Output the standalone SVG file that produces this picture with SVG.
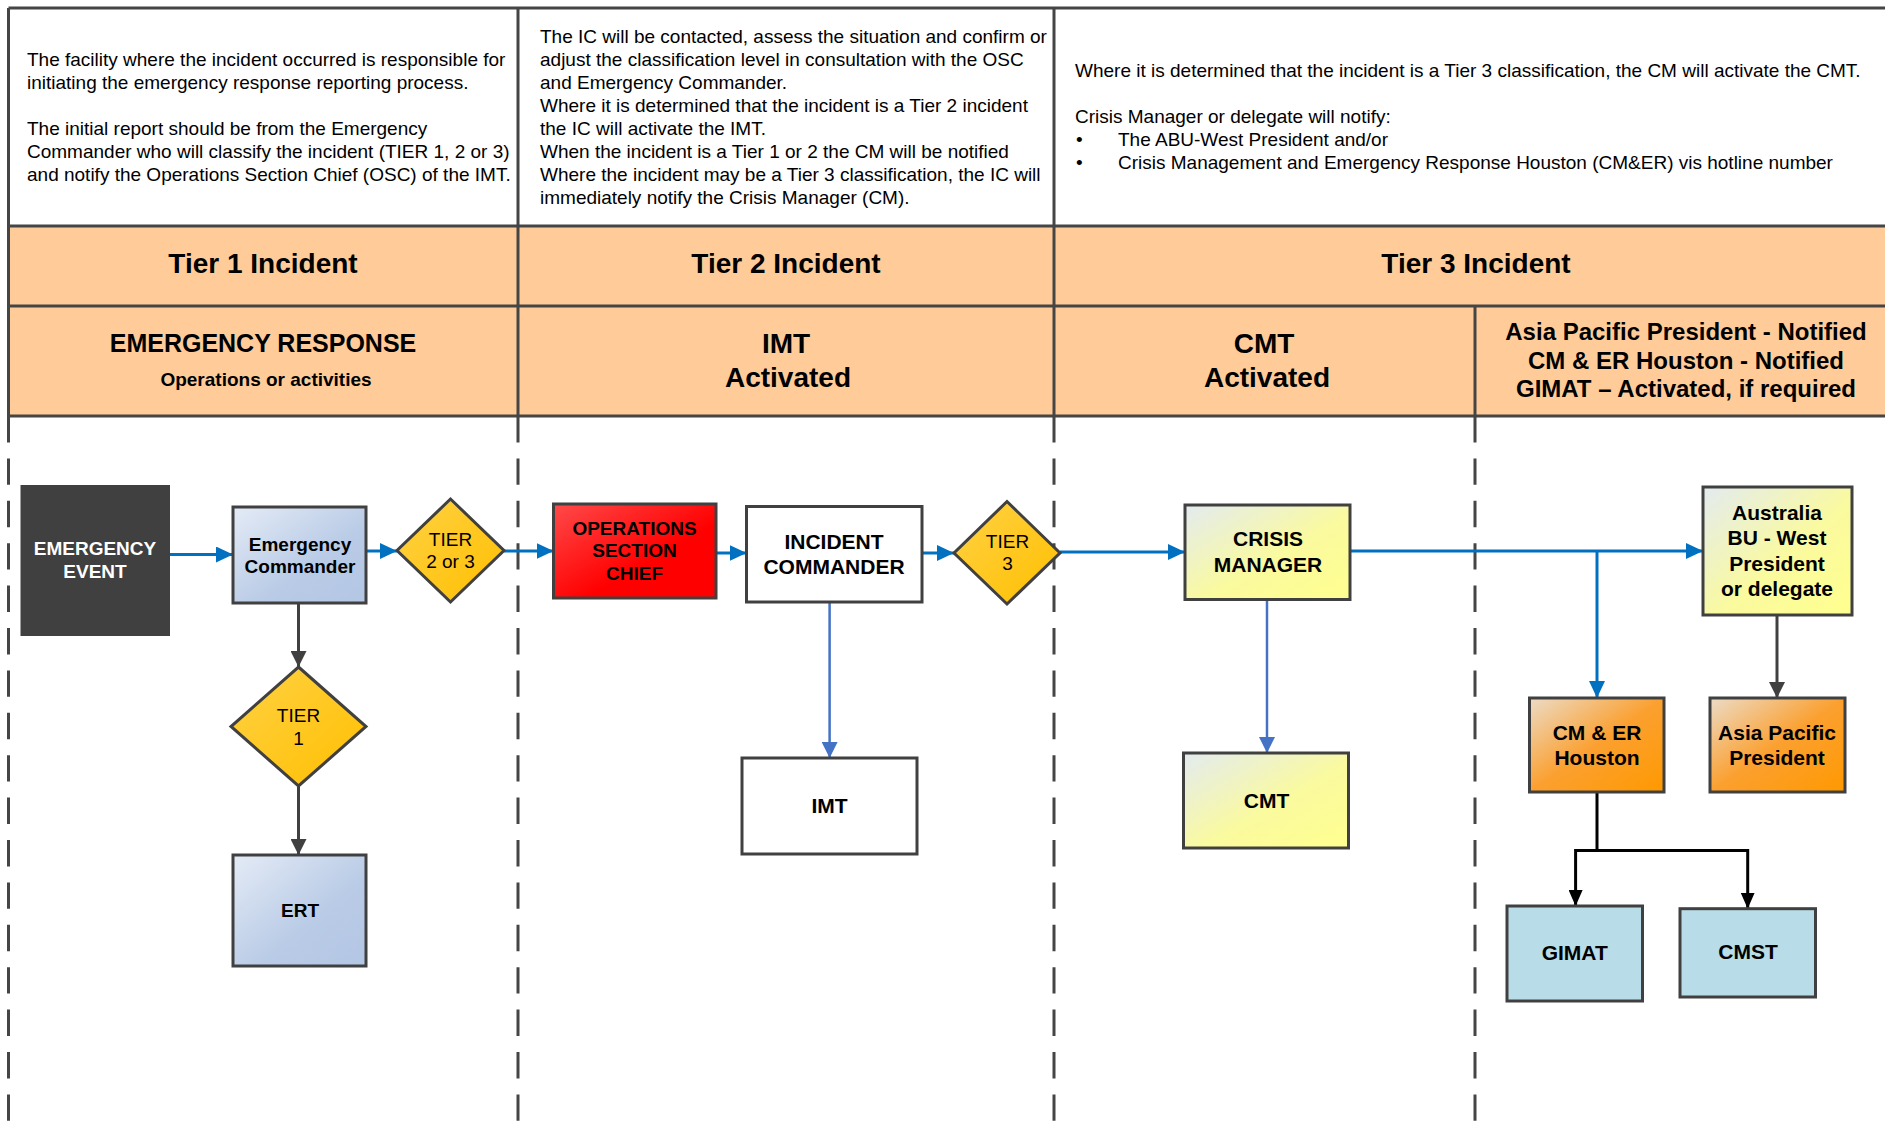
<svg xmlns="http://www.w3.org/2000/svg" width="1885" height="1123" viewBox="0 0 1885 1123">
  <style>
    text { font-family: "Liberation Sans", Arial, sans-serif; fill: #000; }
    .note { font-size: 19px; }
    .tier { font-size: 28px; font-weight: bold; text-anchor: middle; }
    .sub { font-size: 24px; font-weight: bold; text-anchor: middle; }
    .lbl { font-size: 19px; font-weight: bold; text-anchor: middle; }
    .lbl21 { font-size: 21px; font-weight: bold; text-anchor: middle; }
    .dlbl { font-size: 19px; text-anchor: middle; }
    .grid { stroke: #454545; stroke-width: 3; fill: none; }
    .lane { stroke: #454545; stroke-width: 3; fill: none; stroke-dasharray: 26.4 16; }
    .box { stroke: #404040; stroke-width: 3; }
    .blue { stroke: #0070c0; stroke-width: 3; fill: none; }
    .blue2 { stroke: #4472c4; stroke-width: 2.5; fill: none; }
    .dark { stroke: #404040; stroke-width: 3; fill: none; }
    .black { stroke: #000; stroke-width: 3; fill: none; }
  </style>
  <defs>
    <linearGradient id="gBlue" x1="0" y1="0" x2="1" y2="1">
      <stop offset="0" stop-color="#e4ebf6"/>
      <stop offset="0.6" stop-color="#b9cbe6"/>
      <stop offset="1" stop-color="#b3c6e4"/>
    </linearGradient>
    <linearGradient id="gYellow" x1="0" y1="0" x2="1" y2="1">
      <stop offset="0" stop-color="#e3ebf0"/>
      <stop offset="0.55" stop-color="#fafa9f"/>
      <stop offset="1" stop-color="#ffff8f"/>
    </linearGradient>
    <linearGradient id="gOrange" x1="0" y1="0" x2="1" y2="1">
      <stop offset="0" stop-color="#ecdcc8"/>
      <stop offset="0.5" stop-color="#fba030"/>
      <stop offset="1" stop-color="#ff9900"/>
    </linearGradient>
    <linearGradient id="gDiamond" x1="0" y1="0" x2="1" y2="1">
      <stop offset="0" stop-color="#ffd245"/>
      <stop offset="1" stop-color="#ffbf00"/>
    </linearGradient>
    <linearGradient id="gRed" x1="0" y1="0" x2="1" y2="1">
      <stop offset="0" stop-color="#ff4a4a"/>
      <stop offset="0.6" stop-color="#ff0000"/>
      <stop offset="1" stop-color="#ff0000"/>
    </linearGradient>
    <marker id="aBlue" markerUnits="userSpaceOnUse" markerWidth="18" markerHeight="16" refX="17" refY="8" orient="auto">
      <path d="M0,0 L17,8 L0,16 z" fill="#0070c0"/>
    </marker>
    <marker id="aBlue2" markerUnits="userSpaceOnUse" markerWidth="16" markerHeight="16" refX="16" refY="8" orient="auto">
      <path d="M0,0 L16,8 L0,16 z" fill="#4472c4"/>
    </marker>
    <marker id="aDark" markerUnits="userSpaceOnUse" markerWidth="16" markerHeight="16" refX="16" refY="8" orient="auto">
      <path d="M0,0 L16,8 L0,16 z" fill="#404040"/>
    </marker>
    <marker id="aBlack" markerUnits="userSpaceOnUse" markerWidth="16" markerHeight="14" refX="16" refY="7" orient="auto">
      <path d="M0,0 L16,7 L0,14 z" fill="#000"/>
    </marker>
  </defs>

  <!-- table background -->
  <rect x="0" y="0" width="1885" height="1123" fill="#fff"/>
  <rect x="8.5" y="226" width="1890" height="190" fill="#ffcc99"/>

  <!-- table grid -->
  <g id="table-grid">
    <path class="grid" d="M8.5,8 H1890 M8.5,226 H1890 M8.5,306 H1890 M8.5,416 H1890"/>
    <path class="grid" d="M8.5,8 V416 M518,8 V416 M1054,8 V416 M1475,306 V416"/>
  </g>

  <!-- swimlane separators -->
  <g id="lanes">
    <path class="lane" d="M8.5,416 V1123 M518,416 V1123 M1054,416 V1123 M1475,416 V1123"/>
  </g>

  <!-- description notes -->
  <g id="note-tier1" class="note">
    <text x="27" y="66">The facility where the incident occurred is responsible for</text>
    <text x="27" y="89">initiating the emergency response reporting process.</text>
    <text x="27" y="135">The initial report should be from the Emergency</text>
    <text x="27" y="158">Commander who will classify the incident (TIER 1, 2 or 3)</text>
    <text x="27" y="181">and notify the Operations Section Chief (OSC) of the IMT.</text>
  </g>
  <g id="note-tier2" class="note">
    <text x="540" y="43">The IC will be contacted, assess the situation and confirm or</text>
    <text x="540" y="66">adjust the classification level in consultation with the OSC</text>
    <text x="540" y="89">and Emergency Commander.</text>
    <text x="540" y="112">Where it is determined that the incident is a Tier 2 incident</text>
    <text x="540" y="135">the IC will activate the IMT.</text>
    <text x="540" y="158">When the incident is a Tier 1 or 2 the CM will be notified</text>
    <text x="540" y="181">Where the incident may be a Tier 3 classification, the IC will</text>
    <text x="540" y="204">immediately notify the Crisis Manager (CM).</text>
  </g>
  <g id="note-tier3" class="note">
    <text x="1075" y="77">Where it is determined that the incident is a Tier 3 classification, the CM will activate the CMT.</text>
    <text x="1075" y="123">Crisis Manager or delegate will notify:</text>
    <text x="1076" y="146">•</text>
    <text x="1118" y="146">The ABU-West President and/or</text>
    <text x="1076" y="169">•</text>
    <text x="1118" y="169">Crisis Management and Emergency Response Houston (CM&amp;ER) vis hotline number</text>
  </g>

  <!-- tier headings -->
  <g id="tier-headings">
    <text class="tier" x="263" y="273">Tier 1 Incident</text>
    <text class="tier" x="786" y="273">Tier 2 Incident</text>
    <text class="tier" x="1476" y="273">Tier 3 Incident</text>
  </g>

  <!-- activation headings -->
  <g id="activation-headings">
    <text class="tier" x="263" y="352" style="font-size:25px">EMERGENCY RESPONSE</text>
    <text class="lbl" x="266" y="386">Operations or activities</text>
    <text class="tier" x="786" y="353">IMT</text>
    <text class="tier" x="788" y="387">Activated</text>
    <text class="tier" x="1264" y="353">CMT</text>
    <text class="tier" x="1267" y="387">Activated</text>
    <text class="sub" x="1686" y="340">Asia Pacific President - Notified</text>
    <text class="sub" x="1686" y="369">CM &amp; ER Houston - Notified</text>
    <text class="sub" x="1686" y="397">GIMAT – Activated, if required</text>
  </g>

  <!-- connectors -->
  <g id="connectors">
    <path class="blue" d="M170,554.5 H233" marker-end="url(#aBlue)"/>
    <path class="blue" d="M366,551 H397" marker-end="url(#aBlue)"/>
    <path class="blue" d="M504,551 H553.5" marker-end="url(#aBlue)"/>
    <path class="blue" d="M716,553 H746.5" marker-end="url(#aBlue)"/>
    <path class="blue" d="M922,553 H954" marker-end="url(#aBlue)"/>
    <path class="blue" d="M1060,552 H1185" marker-end="url(#aBlue)"/>
    <path class="blue" d="M1350,551 H1703" marker-end="url(#aBlue)"/>
    <path class="blue" d="M1597,551 V698" marker-end="url(#aBlue)"/>
    <path class="blue2" d="M829.6,602 V758" marker-end="url(#aBlue2)"/>
    <path class="blue2" d="M1267,599.5 V753" marker-end="url(#aBlue2)"/>
    <path class="dark" d="M298.5,603 V667" marker-end="url(#aDark)"/>
    <path class="dark" d="M298.5,786 V855" marker-end="url(#aDark)"/>
    <path class="dark" d="M1777,615 V698" marker-end="url(#aDark)"/>
    <path class="black" d="M1597,792 V850.5 H1575.6 V906" marker-end="url(#aBlack)"/>
    <path class="black" d="M1597,850.5 H1747.7 V908.7" marker-end="url(#aBlack)"/>
  </g>

  <!-- nodes -->
  <g id="emergency-event">
    <rect x="20.5" y="485" width="149.5" height="151" fill="#404040"/>
    <text class="lbl" x="95" y="555" style="fill:#fff">EMERGENCY</text>
    <text class="lbl" x="95" y="578" style="fill:#fff">EVENT</text>
  </g>
  <g id="emergency-commander">
    <rect class="box" x="233" y="507" width="133" height="96" fill="url(#gBlue)"/>
    <text class="lbl" x="300" y="550.5">Emergency</text>
    <text class="lbl" x="300" y="573">Commander</text>
  </g>
  <g id="tier-2-or-3">
    <polygon class="box" points="450.5,499 504,550.5 450.5,602 397,550.5" fill="url(#gDiamond)"/>
    <text class="dlbl" x="450.5" y="545.5">TIER</text>
    <text class="dlbl" x="450.5" y="568">2 or 3</text>
  </g>
  <g id="tier-1">
    <polygon class="box" points="298.5,667 366,726.5 298.5,786 231,726.5" fill="url(#gDiamond)"/>
    <text class="dlbl" x="298.5" y="722">TIER</text>
    <text class="dlbl" x="298.5" y="744.5">1</text>
  </g>
  <g id="ert">
    <rect class="box" x="233" y="855" width="133" height="111" fill="url(#gBlue)"/>
    <text class="lbl" x="300" y="917">ERT</text>
  </g>
  <g id="operations-section-chief">
    <rect class="box" x="553.5" y="504" width="162.5" height="94" fill="url(#gRed)"/>
    <text class="lbl" x="634.5" y="534.5">OPERATIONS</text>
    <text class="lbl" x="634.5" y="557">SECTION</text>
    <text class="lbl" x="634.5" y="580">CHIEF</text>
  </g>
  <g id="incident-commander">
    <rect class="box" x="746.5" y="506.5" width="175.5" height="95.5" fill="#fff"/>
    <text class="lbl21" x="834" y="548.5">INCIDENT</text>
    <text class="lbl21" x="834" y="573.5">COMMANDER</text>
  </g>
  <g id="tier-3">
    <polygon class="box" points="1007,501.5 1060,553 1007,604 954,553" fill="url(#gDiamond)"/>
    <text class="dlbl" x="1007.5" y="547.5">TIER</text>
    <text class="dlbl" x="1007.5" y="570">3</text>
  </g>
  <g id="imt">
    <rect class="box" x="742" y="758" width="175" height="96" fill="#fff"/>
    <text class="lbl21" x="829.6" y="812.5">IMT</text>
  </g>
  <g id="crisis-manager">
    <rect class="box" x="1185" y="505" width="165" height="94.5" fill="url(#gYellow)"/>
    <text class="lbl21" x="1268" y="545.5">CRISIS</text>
    <text class="lbl21" x="1268" y="572">MANAGER</text>
  </g>
  <g id="cmt">
    <rect class="box" x="1183.5" y="753" width="165" height="95" fill="url(#gYellow)"/>
    <text class="lbl21" x="1266.5" y="807.5">CMT</text>
  </g>
  <g id="australia-bu-west">
    <rect class="box" x="1703" y="487" width="149" height="128" fill="url(#gYellow)"/>
    <text class="lbl21" x="1777" y="519.5">Australia</text>
    <text class="lbl21" x="1777" y="545">BU - West</text>
    <text class="lbl21" x="1777" y="570.5">President</text>
    <text class="lbl21" x="1777" y="596">or delegate</text>
  </g>
  <g id="cm-er-houston">
    <rect class="box" x="1529.5" y="698" width="134.5" height="94" fill="url(#gOrange)"/>
    <text class="lbl21" x="1597" y="739.5">CM &amp; ER</text>
    <text class="lbl21" x="1597" y="765">Houston</text>
  </g>
  <g id="asia-pacific-president">
    <rect class="box" x="1710" y="698" width="135" height="94" fill="url(#gOrange)"/>
    <text class="lbl21" x="1777" y="739.5">Asia Pacific</text>
    <text class="lbl21" x="1777" y="765">President</text>
  </g>
  <g id="gimat">
    <rect class="box" x="1507" y="906" width="135.5" height="95" fill="#b8dde8"/>
    <text class="lbl21" x="1574.7" y="959.5">GIMAT</text>
  </g>
  <g id="cmst">
    <rect class="box" x="1680" y="908.7" width="135.5" height="88.3" fill="#b8dde8"/>
    <text class="lbl21" x="1748" y="959">CMST</text>
  </g>
</svg>
